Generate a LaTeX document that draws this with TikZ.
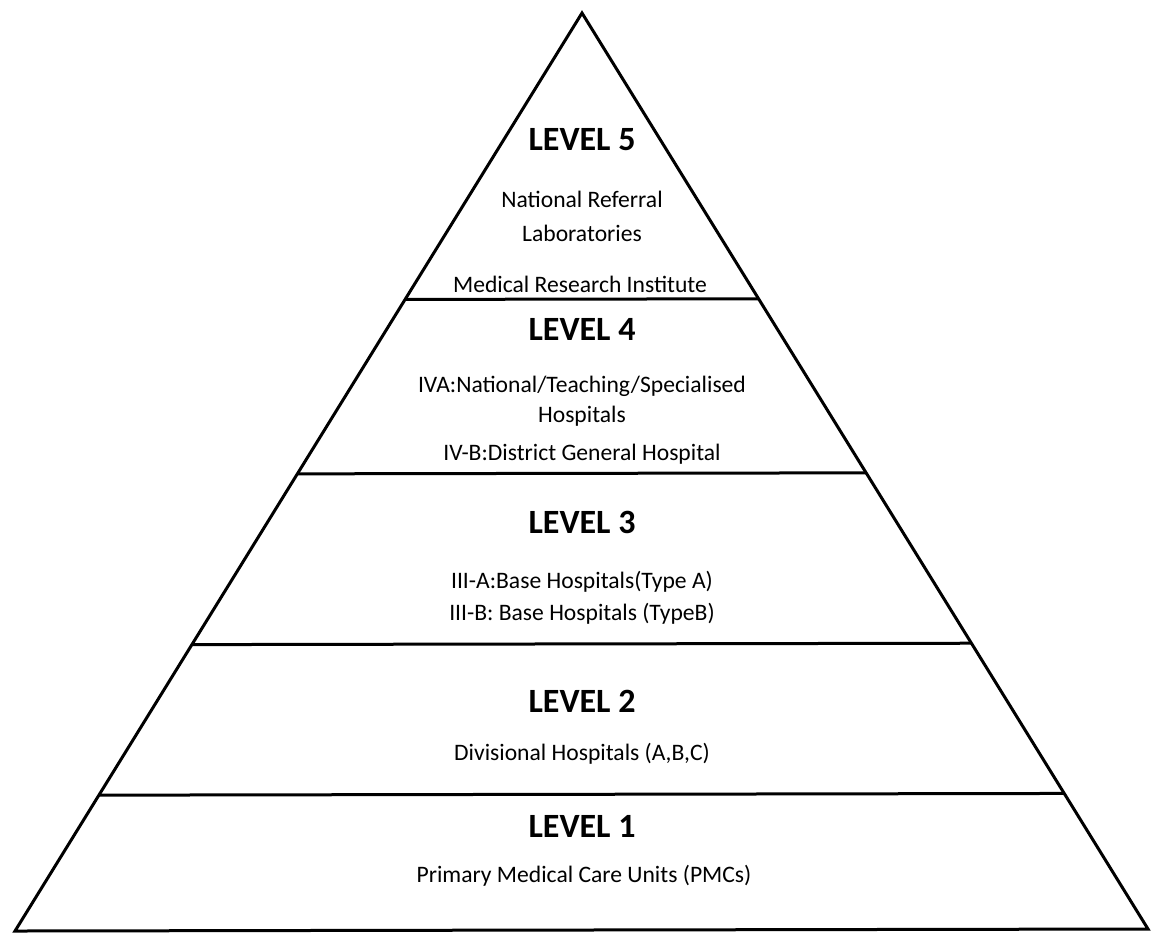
\documentclass[tikz,border=0pt]{standalone}
\usepackage{fontspec}
\setmainfont{Carlito}
\usetikzlibrary{calc}

\begin{document}
\begin{tikzpicture} [
    x=0.5pt, y=-0.5pt,
    every node/.style = {anchor=base, inner sep=0pt, font=\fontsize{11.8}{13}\selectfont},
    levelhead/.style = {font=\fontsize{17}{19}\selectfont\bfseries},
    edge/.style = {line width=1.5pt, line join=miter}
]
    \useasboundingbox (0,0) rectangle (1151,934);
    \coordinate (apex) at (582,13);
    \coordinate (bl) at (15,931);
    \coordinate (br) at (1148,929);

    % outline of the pyramid
    \draw[edge] (bl) -- (apex) -- (br) -- cycle;

    % dividers between the levels
    \foreach \t/\n in {0.312/a, 0.502/b, 0.688/c, 0.852/d} {
        \coordinate (l\n) at ($(apex)!\t!(bl)$);
        \coordinate (r\n) at ($(apex)!\t!(br)$);
        \draw[edge] (l\n) -- (r\n);
    }

    % level 5
    \node[levelhead] (lvl5) at (582,150) {LEVEL 5};
    \node (nrefer) at (582,207) {National Referral};
    \node (labs) at (582,241) {Laboratories};
    \node (mri) at (580,292) {Medical Research Institute};

    % level 4
    \node[levelhead] (lvl4) at (582,340) {LEVEL 4};
    \node (iva) at (582,392) {IVA:National/Teaching/Specialised};
    \node (ivahosp) at (582,422) {Hospitals};
    \node (ivb) at (582,460) {IV-B:District General Hospital};

    % level 3
    \node[levelhead] (lvl3) at (582,533) {LEVEL 3};
    \node (iiia) at (582,588) {III-A:Base Hospitals(Type A)};
    \node (iiib) at (582,620) {III-B: Base Hospitals (TypeB)};

    % level 2
    \node[levelhead] (lvl2) at (582,712) {LEVEL 2};
    \node (divh) at (582,760) {Divisional Hospitals (A,B,C)};

    % level 1
    \node[levelhead] (lvl1) at (582,837) {LEVEL 1};
    \node (pmc) at (584,882) {Primary Medical Care Units (PMCs)};
\end{tikzpicture}
\end{document}
